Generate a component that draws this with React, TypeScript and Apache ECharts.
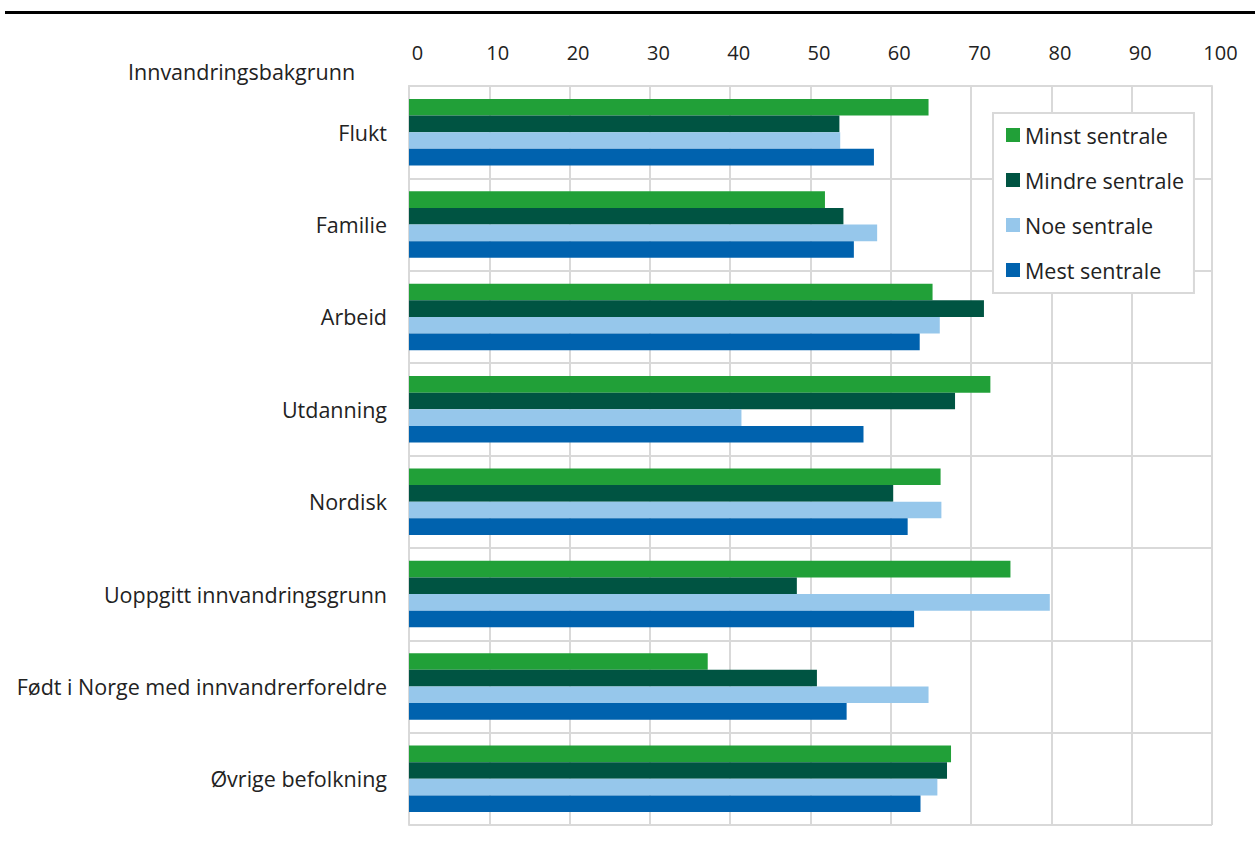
import React, { useEffect, useRef } from "react";
import * as echarts from "echarts";

const categories = [
  "Flukt",
  "Familie",
  "Arbeid",
  "Utdanning",
  "Nordisk",
  "Uoppgitt innvandringsgrunn",
  "Født i Norge med innvandrerforeldre",
  "Øvrige befolkning",
];

const seriesNames = ["Minst sentrale", "Mindre sentrale", "Noe sentrale", "Mest sentrale"];
const minstSentrale = [64.7, 51.8, 65.2, 72.4, 66.2, 74.9, 37.2, 67.5];
const mindreSentrale = [53.6, 54.1, 71.6, 68.0, 60.3, 48.3, 50.8, 67.0];
const noeSentrale = [53.7, 58.3, 66.1, 41.4, 66.3, 79.8, 64.7, 65.8];
const mestSentrale = [57.9, 55.4, 63.6, 56.6, 62.1, 62.9, 54.5, 63.7];
const seriesColors = ["#21a038", "#005442", "#96c7eb", "#0062ae"];

const FONT = "'Open Sans', sans-serif";
const GRID = "#d9d9d9";
const TEXT = "#222222";
const LABEL_SIZE = 21.5;

export default function App() {
  const ref = useRef<HTMLDivElement>(null);
  useEffect(() => {
    if (!ref.current) return;
    const chart = echarts.init(ref.current, null, { renderer: "svg" });
    const data = [minstSentrale, mindreSentrale, noeSentrale, mestSentrale];
    chart.setOption({
      animation: false,
      backgroundColor: "#ffffff",
      textStyle: { fontFamily: FONT },
      grid: { left: 409, top: 86, right: 43, bottom: 20, containLabel: false },
      legend: {
        orient: "vertical",
        left: 993,
        top: 113,
        itemWidth: 14,
        itemHeight: 14,
        itemGap: 23,
        icon: "rect",
        backgroundColor: "#ffffff",
        borderColor: GRID,
        borderWidth: 2,
        padding: [11, 10, 12, 13],
        textStyle: { fontFamily: FONT, fontSize: LABEL_SIZE, color: TEXT, lineHeight: 22 },
        data: seriesNames,
      },
      xAxis: {
        type: "value",
        position: "top",
        min: 0,
        max: 100,
        interval: 10,
        axisLine: { show: true, lineStyle: { color: GRID, width: 2 } },
        axisTick: { show: false },
        axisLabel: {
          fontFamily: FONT,
          fontSize: 20,
          color: TEXT,
          margin: 24,
          padding: [0, 0, 0, 17],
        },
        splitLine: { show: true, lineStyle: { color: GRID, width: 2 } },
      },
      yAxis: {
        type: "category",
        inverse: true,
        data: categories,
        axisLine: { show: true, lineStyle: { color: GRID, width: 2 } },
        axisTick: { show: false },
        axisLabel: { fontFamily: FONT, fontSize: LABEL_SIZE, color: TEXT, margin: 22 },
        splitLine: { show: true, lineStyle: { color: GRID, width: 2 } },
      },
      graphic: [
        {
          type: "line",
          shape: { x1: 5, y1: 12.5, x2: 1255, y2: 12.5 },
          style: { stroke: "#000000", lineWidth: 3 },
        },
        {
          type: "text",
          left: 128,
          top: 60,
          style: {
            text: "Innvandringsbakgrunn",
            fontFamily: FONT,
            fontSize: LABEL_SIZE,
            fill: TEXT,
          },
        },
      ],
      series: seriesNames.map((name, i) => ({
        name,
        type: "bar",
        data: data[i],
        barGap: "0%",
        barCategoryGap: "28%",
        itemStyle: { color: seriesColors[i] },
      })),
    });
    return () => chart.dispose();
  }, []);
  return (
    <div
      ref={ref}
      style={{ position: "fixed", left: 0, top: 0, width: 1255, height: 845, background: "#fff" }}
    />
  );
}
